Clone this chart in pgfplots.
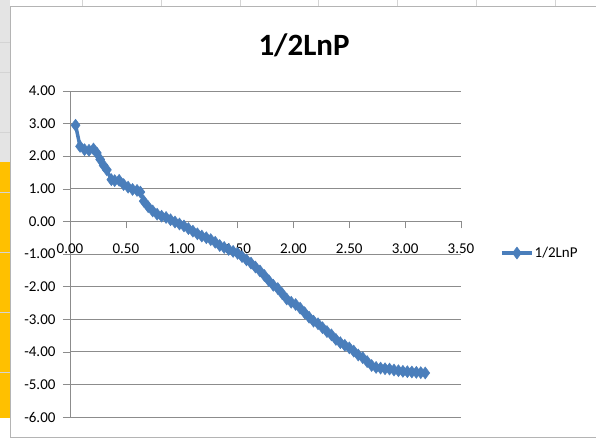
\documentclass[border=0pt]{standalone}
\usepackage{fontspec}
\setmainfont{Carlito}
\usepackage{pgfplots}
\pgfplotsset{compat=1.18}
\definecolor{series}{RGB}{74,126,187}
\definecolor{gridgray}{RGB}{140,140,140}
\definecolor{cellline}{RGB}{212,212,212}
\definecolor{hdr}{RGB}{228,228,228}
\definecolor{sel}{RGB}{255,192,0}
\definecolor{frame}{RGB}{180,180,180}

\begin{document}
\begin{tikzpicture}
\begin{scope}[x=1bp,y=1bp]
  \useasboundingbox (0,0) rectangle (596,442);
  \fill[white] (0,0) rectangle (596,442);
  % sheet background around the chart
  \fill[hdr] (0,280) rectangle (10,442);
  \fill[sel] (0,24) rectangle (10,280);
  \foreach \cx in {82,161,240,318,397,476,555}
    \draw[cellline] (\cx,435) -- (\cx,442);
  \foreach \cy in {400,370,310,250,190,130,70}
    \draw[cellline] (0,\cy) -- (10,\cy);
  % chart area frame
  \draw[frame] (10.5,4.5) rectangle (600,435.5);
  % chart title
  \node[font=\fontsize{31bp}{34bp}\selectfont\bfseries] at (304,397) {1/2LnP};
\end{scope}

\begin{axis}[
  at={(70bp,25bp)}, anchor=south west,
  scale only axis, width=391bp, height=326bp,
  xmin=0, xmax=3.5, ymin=-6, ymax=4,
  xtick={0,0.5,...,3.5}, ytick={-6,-5,...,4},
  axis x line=middle, axis y line=left,
  hide obscured x ticks=false, hide obscured y ticks=false,
  axis line style={-, draw=gridgray},
  ymajorgrids, grid style={draw=gridgray, line width=0.8bp},
  tick align=outside, major tick length=7bp,
  tick style={draw=gridgray},
  tick label style={font=\fontsize{15bp}{18bp}\selectfont},
  /pgf/number format/assume math mode=true,
  /pgf/number format/.cd, fixed, fixed zerofill, precision=2, /pgfplots/.cd,
  xticklabel style={yshift=-12bp},
  yticklabel style={xshift=-4bp},
  clip=false,
  legend style={at={(1.0997,0.503)}, anchor=west, draw=none, fill=none,
    font=\fontsize{15bp}{18bp}\selectfont, inner sep=0pt,
    nodes={inner sep=1bp}},
  legend image code/.code={
    \draw[mark repeat=2, mark phase=2, #1]
      plot coordinates {(0bp,0bp) (15bp,0bp) (30bp,0bp)};},
]
\addplot[color=series, line width=3.5bp, mark=diamond*, mark size=6bp,
  mark options={fill=series, draw=series, line width=0.5bp}]
  table {
x y
0.05 2.95
0.09 2.30
0.13 2.20
0.17 2.18
0.21 2.22
0.24 2.10
0.27 1.90
0.30 1.72
0.33 1.58
0.37 1.28
0.40 1.25
0.44 1.26
0.48 1.13
0.52 1.05
0.56 0.98
0.60 0.95
0.63 0.90
0.66 0.62
0.70 0.45
0.74 0.32
0.78 0.22
0.82 0.16
0.86 0.12
0.90 0.05
0.94 -0.02
0.98 -0.08
1.02 -0.14
1.06 -0.22
1.10 -0.30
1.14 -0.38
1.18 -0.45
1.22 -0.50
1.26 -0.56
1.30 -0.64
1.34 -0.74
1.38 -0.80
1.42 -0.86
1.46 -0.92
1.50 -0.98
1.54 -1.08
1.58 -1.18
1.62 -1.28
1.66 -1.40
1.70 -1.52
1.74 -1.66
1.78 -1.82
1.82 -1.96
1.86 -2.06
1.90 -2.22
1.94 -2.38
1.98 -2.48
2.02 -2.55
2.06 -2.66
2.10 -2.80
2.14 -2.94
2.18 -3.06
2.22 -3.14
2.26 -3.26
2.30 -3.38
2.34 -3.48
2.38 -3.62
2.42 -3.72
2.46 -3.80
2.50 -3.88
2.54 -3.98
2.58 -4.10
2.62 -4.18
2.66 -4.30
2.70 -4.42
2.74 -4.48
2.78 -4.50
2.82 -4.52
2.86 -4.53
2.90 -4.56
2.94 -4.58
2.98 -4.60
3.02 -4.61
3.06 -4.62
3.10 -4.63
3.14 -4.64
3.18 -4.65
};
\addlegendentry{1/2LnP}
\end{axis}
\end{tikzpicture}
\end{document}
